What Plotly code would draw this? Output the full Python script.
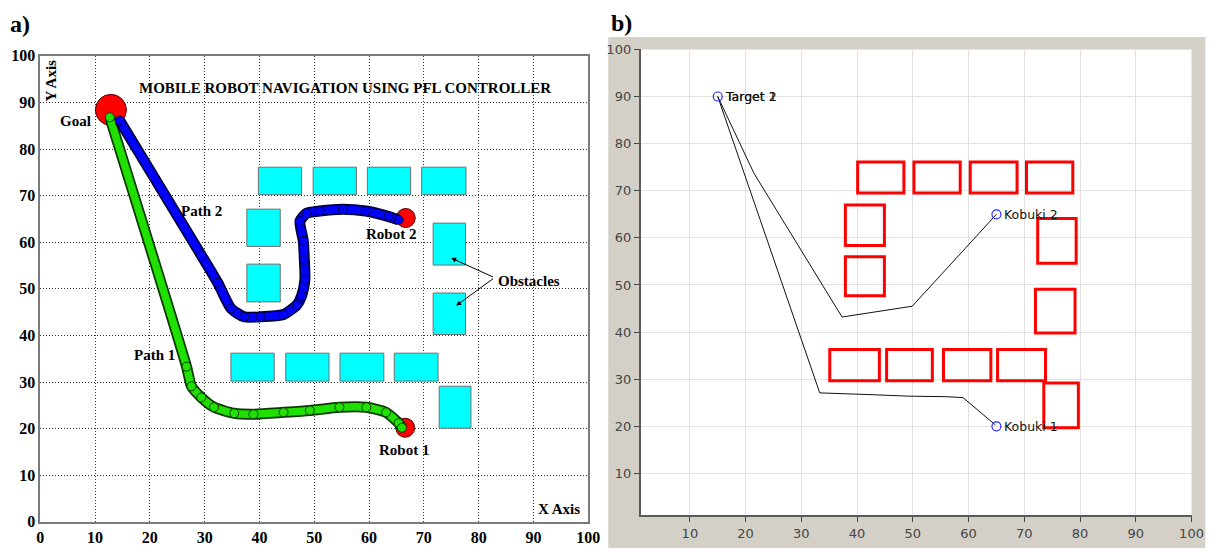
import plotly.graph_objects as go

# ---------------- Panel a data ----------------
ticks_a = [0, 10, 20, 30, 40, 50, 60, 70, 80, 90, 100]
goal_a = [12.9, 88.4]
robots_a_x = [66.6, 66.7]
robots_a_y = [20.2, 65.2]

path1_x = [12.7, 26.7, 27.6, 29.4, 31.7, 35.4, 38.9, 44.4, 49.2, 54.6, 59.5, 63.1, 65.4, 66.0]
path1_y = [86.8, 33.3, 29.1, 26.7, 24.6, 23.3, 23.1, 23.5, 23.9, 24.6, 24.6, 23.5, 21.2, 20.2]

path2_x = [14.5, 29.4, 32.4, 34.8, 37.2, 40.2, 44.4, 46.8, 47.7, 48.3, 48.2, 48.0, 47.4, 48.6, 51.0, 55.2, 59.4, 63.6, 65.4]
path2_y = [86.1, 57.2, 51.3, 45.8, 44.0, 44.0, 44.5, 46.5, 48.5, 52.0, 56.2, 60.3, 64.5, 66.2, 66.7, 67.1, 66.7, 65.5, 64.8]

obs_a_x0 = [39.8, 49.8, 59.7, 69.6, 37.7, 37.7, 71.7, 71.7, 34.8, 44.8, 54.7, 64.6, 72.8]
obs_a_x1 = [47.7, 57.7, 67.6, 77.7, 43.8, 43.8, 77.6, 77.6, 42.7, 52.7, 62.7, 72.6, 78.6]
obs_a_y0 = [70.2, 70.2, 70.2, 70.2, 59.1, 47.2, 55.1, 40.2, 30.2, 30.2, 30.2, 30.2, 20.1]
obs_a_y1 = [76.1, 76.1, 76.1, 76.1, 67.1, 55.3, 64.1, 49.1, 36.2, 36.2, 36.2, 36.2, 29.1]

labels_a_text = ["Goal", "Path 2", "Path 1", "Robot 2", "Robot 1", "Obstacles", "X Axis"]
labels_a_x = [6.5, 29.4, 20.8, 64.1, 66.3, 89.2, 94.6]
labels_a_y = [86.1, 66.6, 35.8, 61.7, 15.4, 51.6, 2.7]
title_a = "MOBILE ROBOT NAVIGATION USING PFL CONTROLLER"

# ---------------- Panel b data ----------------
ticks_b = [10, 20, 30, 40, 50, 60, 70, 80, 90, 100]
k1_x = [64.8, 59.0, 55.8, 49.3, 43.1, 36.6, 33.3, 15.0]
k1_y = [20.3, 26.1, 26.3, 26.4, 26.7, 26.9, 27.1, 90.0]
k2_x = [65.0, 49.9, 37.3, 21.5, 15.0]
k2_y = [65.0, 45.5, 43.2, 73.7, 90.0]
pts_b_x = [15.0, 65.0, 65.0]
pts_b_y = [90.0, 20.0, 65.0]
pts_b_labels = ["Target 1", "Kobuki 1", "Kobuki 2"]

obs_b_x0 = [40.1, 50.2, 60.3, 70.4, 37.9, 37.9, 72.4, 72.0, 35.1, 45.3, 55.5, 65.2, 73.5]
obs_b_x1 = [48.4, 58.5, 68.7, 78.7, 44.9, 44.9, 79.3, 79.1, 44.0, 53.5, 64.0, 73.8, 79.7]
obs_b_y0 = [69.5, 69.5, 69.5, 69.5, 58.4, 47.7, 54.6, 39.8, 29.7, 29.7, 29.7, 29.7, 19.7]
obs_b_y1 = [76.1, 76.1, 76.1, 76.1, 67.0, 56.0, 64.1, 49.1, 36.3, 36.3, 36.3, 36.3, 29.2]

W, H = 1220, 559
SERIF = "Liberation Serif"
SANS = "DejaVu Sans"

fig = go.Figure()

# ---- Panel a traces ----
fig.add_trace(go.Scatter(x=[goal_a[0]], y=[goal_a[1]], mode="markers",
                         marker=dict(size=31, color="#ff0000", line=dict(color="#550000", width=1)),
                         xaxis="x", yaxis="y", showlegend=False, hoverinfo="skip"))
fig.add_trace(go.Scatter(x=robots_a_x, y=robots_a_y, mode="markers",
                         marker=dict(size=19, color="#ff0000", line=dict(color="#550000", width=1)),
                         xaxis="x", yaxis="y", showlegend=False, hoverinfo="skip"))
for px_, py_, col, dark in [(path1_x, path1_y, "#1fe000", "#0b3a00"),
                            (path2_x, path2_y, "#0000ff", "#000040")]:
    fig.add_trace(go.Scatter(x=px_, y=py_, mode="lines",
                             line=dict(color=dark, width=11, shape="spline", smoothing=0.6),
                             xaxis="x", yaxis="y", showlegend=False, hoverinfo="skip"))
    fig.add_trace(go.Scatter(x=px_, y=py_, mode="lines+markers",
                             line=dict(color=col, width=7.5, shape="spline", smoothing=0.6),
                             marker=dict(size=9, color=col, line=dict(color=dark, width=1)),
                             xaxis="x", yaxis="y", showlegend=False, hoverinfo="skip"))

# ---- Panel b traces ----
for lx, ly in [(k1_x, k1_y), (k2_x, k2_y)]:
    fig.add_trace(go.Scatter(x=lx, y=ly, mode="lines", line=dict(color="#111111", width=1),
                             xaxis="x2", yaxis="y2", showlegend=False, hoverinfo="skip"))
fig.add_trace(go.Scatter(x=pts_b_x, y=pts_b_y, mode="markers",
                         marker=dict(size=9, symbol="circle-open", color="#2b2bff", line=dict(width=1.2)),
                         xaxis="x2", yaxis="y2", showlegend=False, hoverinfo="skip"))

shapes = []
# gray background of panel b and white plot area
shapes.append(dict(type="rect", xref="paper", yref="paper", x0=612.3 / W, x1=1217.3 / W,
                   y0=(H - 557) / H, y1=(H - 30) / H, fillcolor="#d4d0c8",
                   line=dict(width=0), layer="below"))
shapes.append(dict(type="rect", xref="paper", yref="paper", x0=645 / W, x1=1203.3 / W,
                   y0=(H - 523.3) / H, y1=(H - 42.7) / H, fillcolor="#ffffff",
                   line=dict(width=0), layer="below"))
for x0, x1, y0, y1 in zip(obs_a_x0, obs_a_x1, obs_a_y0, obs_a_y1):
    shapes.append(dict(type="rect", xref="x", yref="y", x0=x0, x1=x1, y0=y0, y1=y1,
                       fillcolor="#00ffff", line=dict(color="#707070", width=1)))
for x0, x1, y0, y1 in zip(obs_b_x0, obs_b_x1, obs_b_y0, obs_b_y1):
    shapes.append(dict(type="rect", xref="x2", yref="y2", x0=x0, x1=x1, y0=y0, y1=y1,
                       fillcolor="rgba(0,0,0,0)", line=dict(color="#ff0000", width=3)))

annotations = []
fa = dict(family=SERIF, size=15, color="black", weight="bold")
for t, x, y in zip(labels_a_text, labels_a_x, labels_a_y):
    annotations.append(dict(text=t, x=x, y=y, xref="x", yref="y", showarrow=False, font=fa))
annotations.append(dict(text=title_a, x=55.6, y=93.0, xref="x", yref="y", showarrow=False,
                        font=dict(family=SERIF, size=15, color="black", weight="bold")))
annotations.append(dict(text="Y Axis", x=1.8, y=94.7, xref="x", yref="y", showarrow=False,
                        textangle=-90, font=fa))
# obstacle arrows
for hx, hy in [(75.0, 56.6), (75.9, 46.4)]:
    annotations.append(dict(text="", x=hx, y=hy, ax=82.9, ay=52.4, xref="x", yref="y",
                            axref="x", ayref="y", showarrow=True, arrowhead=2, arrowsize=1,
                            arrowwidth=1, arrowcolor="black"))
# panel labels
annotations.append(dict(text="a)", x=4 / W, y=(H - 17) / H, xref="paper", yref="paper",
                        xanchor="left", yanchor="middle", showarrow=False,
                        font=dict(family=SERIF, size=24, color="black", weight="bold")))
annotations.append(dict(text="b)", x=613 / W, y=(H - 15) / H, xref="paper", yref="paper",
                        xanchor="left", yanchor="middle", showarrow=False,
                        font=dict(family=SERIF, size=24, color="black", weight="bold")))
# panel b labels
fb = dict(family=SANS, size=12.5, color="#111111")
for t, x, y in zip(pts_b_labels, pts_b_x, pts_b_y):
    annotations.append(dict(text=t, x=x + 1.0, y=y, xref="x2", yref="y2", xanchor="left",
                            showarrow=False, font=fb))
annotations.append(dict(text="Target 2", x=pts_b_x[0] + 1.0, y=pts_b_y[0], xref="x2", yref="y2",
                        xanchor="left", showarrow=False, font=fb))

fig.update_layout(
    autosize=True,
    margin=dict(l=0, r=0, t=0, b=0),
    paper_bgcolor="white", plot_bgcolor="white",
    shapes=shapes, annotations=annotations,
    xaxis=dict(domain=[36.7 / W, 592 / W], range=[0, 100], tickvals=ticks_a,
               showgrid=True, gridcolor="#333333", griddash="1px,2px", gridwidth=1,
               showline=True, mirror=True, linecolor="#7a7a7a", linewidth=1.5,
               zeroline=False, ticks="", anchor="y",
               tickfont=dict(family=SERIF, size=16, color="black", weight="bold")),
    yaxis=dict(domain=[(H - 530) / H, (H - 49.3) / H], range=[0, 100], tickvals=ticks_a,
               showgrid=True, gridcolor="#333333", griddash="1px,2px", gridwidth=1,
               showline=True, mirror=True, linecolor="#7a7a7a", linewidth=1.5,
               zeroline=False, ticks="", anchor="x",
               tickfont=dict(family=SERIF, size=16, color="black", weight="bold")),
    xaxis2=dict(domain=[645 / W, 1203.3 / W], range=[1.15, 100], tickvals=ticks_b,
                showgrid=True, gridcolor="#e2e2e2", gridwidth=1,
                showline=True, mirror=False, linecolor="#5a5a5a", linewidth=1.5,
                zeroline=False, ticks="outside", ticklen=5, tickcolor="#444444", anchor="y2",
                tickfont=dict(family=SANS, size=13, color="#444444")),
    yaxis2=dict(domain=[(H - 523.3) / H, (H - 42.7) / H], range=[1.1, 100], tickvals=ticks_b,
                showgrid=True, gridcolor="#e2e2e2", gridwidth=1,
                showline=True, mirror=False, linecolor="#5a5a5a", linewidth=1.5,
                zeroline=False, ticks="outside", ticklen=5, tickcolor="#444444", anchor="x2",
                tickfont=dict(family=SANS, size=13, color="#444444")),
)

fig.write_html("out.html", default_width="100vw", default_height="100vh",
               config={"responsive": True, "displayModeBar": False},
               post_script="document.body.style.margin='0';document.body.style.overflow='hidden';"
                           "window.dispatchEvent(new Event('resize'));")
